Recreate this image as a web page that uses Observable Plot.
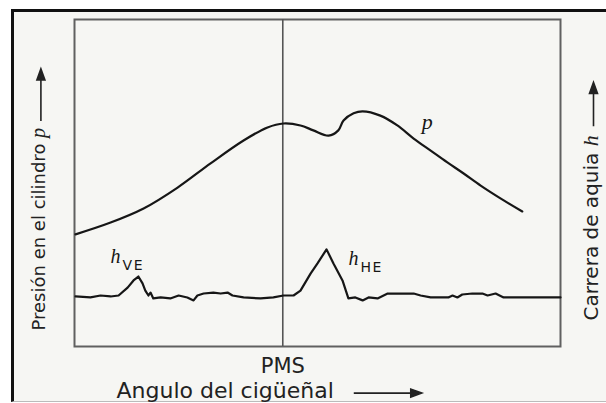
<!DOCTYPE html>
<html><head><meta charset="utf-8">
<script src="https://cdn.jsdelivr.net/npm/d3@7"></script>
<script src="https://cdn.jsdelivr.net/npm/@observablehq/plot@0.6"></script>
<style>
html,body{margin:0;padding:0;background:#fff;}
#wrap{position:relative;width:606px;height:403px;overflow:hidden;background:#fff;}
#border{position:absolute;left:11px;top:9px;width:610px;height:393px;border:3px solid #111;border-bottom:1px solid #bbb;background:#f6f6f3;box-sizing:border-box;}
#chart{position:absolute;left:0;top:0;}
</style></head><body>
<div id="wrap"><div id="border"></div><div id="chart"></div></div>
<script>
// Crank angle (deg relative to PMS) and cylinder pressure p (arbitrary units)
const pAngle = [-59.7,-49.6,-40.1,-30.3,-20.8,-11.3,-4.4,0.2,5.1,8.8,13.2,16.0,17.5,20.4,23.0,28.1,33.0,37.7,42.6,47.4,52.1,57.0,62.7,69.0];
const pValue = [34.3,37.9,42.2,48.6,56.0,63.0,67.0,68.2,67.6,66.1,64.5,66.1,69.1,71.3,71.9,70.6,67.6,63.6,59.9,56.3,52.9,49.2,45.3,41.3];
// Needle lift h (arbitrary units)
const hAngle = [-59.7,-55.4,-52.5,-49.6,-47.3,-44.7,-43.0,-41.6,-40.4,-39.6,-38.7,-38.1,-37.3,-35.2,-32.4,-30.0,-27.5,-25.7,-24.6,-22.8,-20.0,-17.9,-15.9,-14.5,-11.3,-6.4,-2.7,0.2,3.1,5.1,8.0,10.0,12.6,14.6,17.2,18.9,20.9,23.0,24.7,27.3,30.2,32.5,34.9,37.7,39.7,42.6,47.7,48.9,50.3,51.7,54.6,57.5,59.0,61.3,63.6,66.4,80.0];
const hValue = [15.3,15.0,15.6,15.3,15.6,18.0,20.2,21.4,19.3,17.1,15.6,16.5,14.7,15.0,14.7,15.6,15.0,14.1,15.6,16.2,16.5,16.2,16.5,15.6,15.0,14.7,15.0,15.6,15.6,17.1,22.3,25.4,29.7,25.4,20.2,14.7,15.0,14.1,15.0,14.7,16.2,16.2,16.2,16.2,15.6,15.0,15.0,15.6,15.0,15.9,16.2,16.2,15.6,16.2,15.0,15.0,15.0];
// Curve labels
const labelText = ["p","hVE","hHE"];
const labelAngle = [40.0,-49.6,18.9];
const labelValue = [66.4,25.4,24.8];
// Axis texts
const pmsAngle = [0];
const pmsText = "PMS";
const xTitle = "Angulo del cigüeñal";
const yLeftTitle = "Presión en el cilindro p";
const yRightTitle = "Carrera de aquia h";

const pData = pAngle.map((a,i)=>({a, v:pValue[i]}));
const hData = hAngle.map((a,i)=>({a, v:hValue[i]}));
const lData = labelText.map((t,i)=>({t, a:labelAngle[i], v:labelValue[i]}));

const ink = "#161616";
const chart = Plot.plot({
  width: 606, height: 403,
  marginLeft: 74, marginRight: 46, marginTop: 19, marginBottom: 57,
  x: {domain: [-60, 80], axis: null},
  y: {domain: [0, 100], axis: null},
  style: {background: "transparent", fontFamily: "DejaVu Sans", color: "#222"},
  marks: [
    Plot.frame({stroke: "#606060", strokeWidth: 2}),
    Plot.ruleX(pmsAngle, {stroke: "#555", strokeWidth: 1.6}),
    Plot.line(pData, {x: "a", y: "v", curve: "catmull-rom", stroke: ink, strokeWidth: 2.2}),
    Plot.line(hData, {x: "a", y: "v", stroke: ink, strokeWidth: 2.2, strokeLinejoin: "round"}),
    Plot.text(lData, {x: "a", y: "v", text: "t", textAnchor: "start", lineAnchor: "bottom", fill: ink, fontSize: 18}),
    Plot.text(pmsAngle, {x: d => d, text: () => pmsText, frameAnchor: "bottom", lineAnchor: "bottom", dy: 26, fontSize: 21, fill: "#222"}),
    Plot.text([xTitle], {text: d => d, frameAnchor: "bottom-left", textAnchor: "start", lineAnchor: "bottom", dx: 42, dy: 51, fontSize: 22, fill: "#222"}),
    Plot.text([yLeftTitle], {text: d => d, frameAnchor: "left", textAnchor: "start", lineAnchor: "bottom", rotate: -90, dx: -30, dy: 147.5, fontSize: 18, fill: "#222"}),
    Plot.text([yRightTitle], {text: d => d, frameAnchor: "right", textAnchor: "start", lineAnchor: "bottom", rotate: -90, dx: 37, dy: 137.5, fontSize: 20, fill: "#222"})
  ]
});
document.getElementById("chart").appendChild(chart);

const svg = d3.select(chart);
function italicLast(el, size) {
  const s = el.textContent;
  el.textContent = "";
  d3.select(el).append("tspan").text(s.slice(0, -1));
  d3.select(el).append("tspan").text(s.slice(-1))
    .attr("font-family", "Liberation Serif").attr("font-style", "italic").attr("font-size", size);
}
function addArrow(el, gap, len) {
  const bb = el.getBBox();
  const fs = parseFloat(getComputedStyle(el).fontSize) || 18;
  const yAttr = el.getAttribute("y");
  let base = 0;
  if (yAttr) base = yAttr.endsWith("em") ? parseFloat(yAttr) * fs : parseFloat(yAttr);
  const y = base - 0.2 * fs;
  const x0 = bb.x + bb.width + gap, x1 = x0 + len;
  const p = d3.select(el.parentNode).append("path")
    .attr("d", `M${x0},${y}H${x1 - 8}M${x1},${y}L${x1 - 11},${y - 4}L${x1 - 11},${y + 4}Z`)
    .attr("stroke", "#222").attr("stroke-width", 1.6).attr("fill", "#222");
  const t = el.getAttribute("transform");
  if (t) p.attr("transform", t);
}
svg.selectAll("text").each(function() {
  const s = this.textContent;
  if (s === yLeftTitle) { italicLast(this, 20); addArrow(this, 7, 52); }
  else if (s === yRightTitle) { italicLast(this, 22); addArrow(this, 9, 44); }
  else if (s === xTitle) { addArrow(this, 20, 68); }
  else if (s === "p") {
    d3.select(this).attr("font-family", "Liberation Serif").attr("font-style", "italic").attr("font-size", 22);
  } else if (s === "hVE" || s === "hHE") {
    this.textContent = "";
    d3.select(this).append("tspan").text("h")
      .attr("font-family", "Liberation Serif").attr("font-style", "italic").attr("font-size", 20);
    d3.select(this).append("tspan").text(s.slice(1))
      .attr("font-family", "DejaVu Sans").attr("font-size", 14).attr("letter-spacing", 1.5)
      .attr("dx", 2).attr("dy", 7);
  }
});
</script>
</body></html>
